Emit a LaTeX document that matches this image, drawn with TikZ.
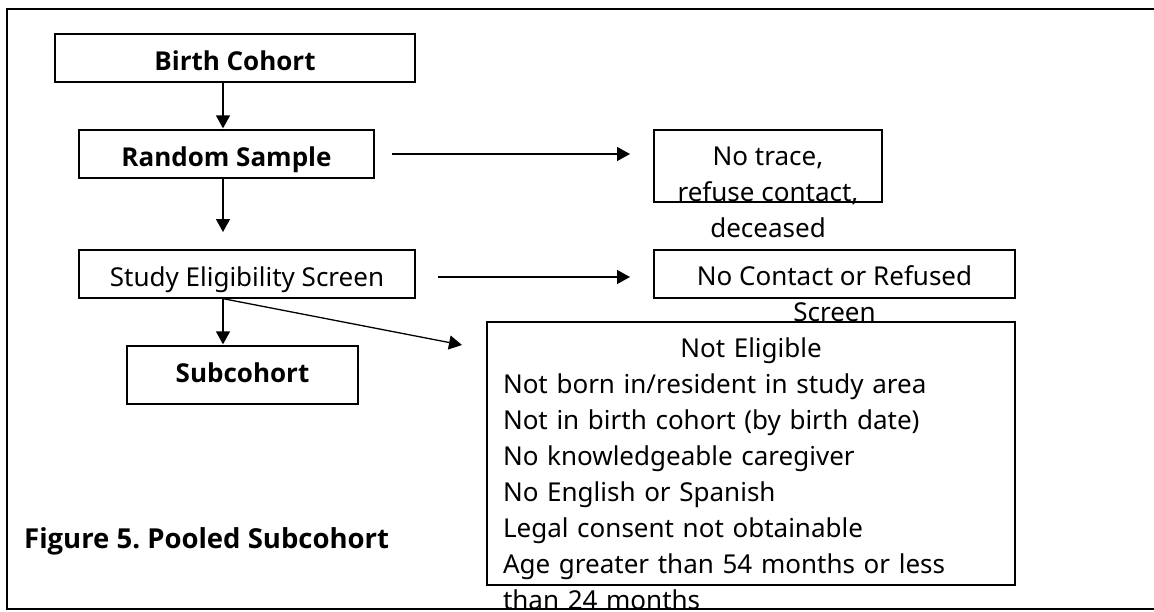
\documentclass[tikz,border=0pt]{standalone}
\usepackage{fontspec}
\setmainfont{Noto Sans}
\newfontfamily\boldfam{Open Sans}
\usetikzlibrary{arrows.meta}
\frenchspacing
\begin{document}
\begin{tikzpicture}[x=1pt,y=-1pt,
  txt/.style={font=\fontsize{26}{36}\selectfont},
  btxt/.style={font=\fontsize{26}{36}\selectfont\boldfam\bfseries},
  box/.style={draw,line width=1.3pt,inner sep=0pt,text height=24pt,text depth=0pt},
  arr/.style={line width=1.3pt,-{Triangle[length=13pt,width=14pt]}},
  overflow/.style={txt,inner sep=0pt,anchor=north,yshift=-16.4pt}]
\useasboundingbox (0,0) rectangle (1154,611);
\draw[line width=1.6pt] (1154,9) -- (7,9) -- (7,609) -- (1154,609);
% boxes
\node[box,btxt,minimum width=360pt,minimum height=48pt] (bc) at (235,58) {Birth Cohort};
\node[box,btxt,minimum width=295pt,minimum height=48pt] (rs) at (226.5,154) {Random Sample};
\node[box,txt,minimum width=336pt,minimum height=48pt] (se) at (247,274) {Study Eligibility Screen};
\node[box,btxt,minimum width=231pt,minimum height=58pt,text height=14pt] (sc) at (242.5,375) {Subcohort};
\node[box,minimum width=228pt,minimum height=72pt] (nt) at (768,166) {};
\node[box,minimum width=361pt,minimum height=48pt] (nc) at (834.5,274) {};
\node[box,minimum width=528pt,minimum height=263pt] (ne) at (751,453.5) {};
% overflowing texts
\node[overflow,align=center] (ntt) at (nt.north) {\rule{0pt}{20pt}No trace,\\refuse contact,\\deceased};
\node[overflow,align=center] (nct) at (nc.north) {\rule{0pt}{20pt}No Contact or Refused\\Screen};
\node[overflow,text width=496pt,align=left] (net) at (ne.north) {\makebox[496pt][c]{\rule{0pt}{20pt}Not Eligible}\\Not born in/resident in study area\\Not in birth cohort (by birth date)\\No knowledgeable caregiver\\No English or Spanish\\Legal consent not obtainable\\Age greater than 54 months or less\\than 24 months};
% caption
\node[font=\fontsize{27.5}{36}\selectfont\boldfam\bfseries,anchor=base west,inner sep=0pt] (cap) at (24,548) {Figure 5. Pooled Subcohort};
% connectors
\coordinate (a2e) at (223,232);
\coordinate (a3s) at (392,154);
\coordinate (a3e) at (630,154);
\coordinate (a4s) at (438,277);
\coordinate (a4e) at (630,277);
\coordinate (a6e) at (462,345);
\draw[arr,shorten >=1pt] ([xshift=-12pt]bc.south) -- ([xshift=-3.5pt]rs.north);
\draw[arr] (rs.south -| a2e) -- (a2e);
\draw[arr] (a3s) -- (a3e);
\draw[arr] (a4s) -- (a4e);
\draw[arr,shorten >=1pt] ([xshift=-24pt]se.south) -- ([xshift=-19.5pt]sc.north);
\draw[arr] ([xshift=-24pt]se.south) -- (a6e);
\end{tikzpicture}
\end{document}
